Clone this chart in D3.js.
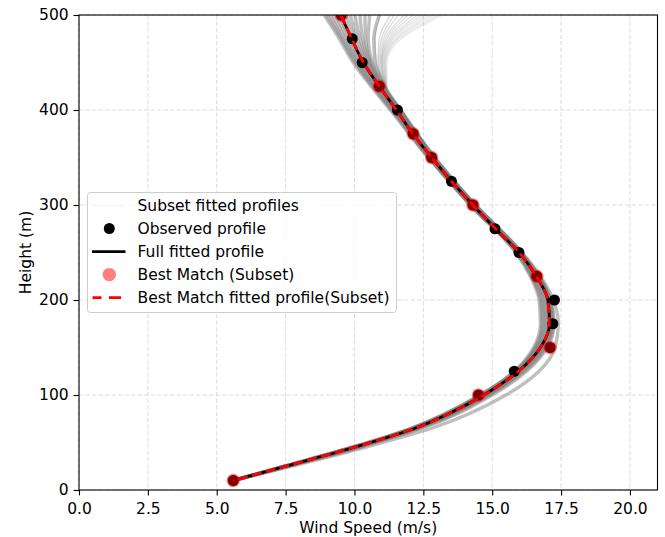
<!DOCTYPE html>
<html><head><meta charset="utf-8">
<script src="https://cdn.jsdelivr.net/npm/d3@7"></script>
<style>body{margin:0;background:#fff}svg text{font-family:"DejaVu Sans",sans-serif}</style>
</head><body><svg id="c" width="665" height="537"></svg>
<script>
// ---- data ----
const xTicks = [0, 2.5, 5, 7.5, 10, 12.5, 15, 17.5, 20];
const yTicks = [0, 100, 200, 300, 400, 500];
const obsH = [10, 100, 125, 150, 175, 200, 225, 250, 275, 300, 325, 350, 375, 400, 425, 450, 475, 500];
const obsU = [5.6, 14.5, 15.8, 17.1, 17.2, 17.26, 16.62, 15.97, 15.1, 14.3, 13.52, 12.8, 12.13, 11.56, 10.9, 10.28, 9.92, 9.52];
const subH = [10, 100, 150, 225, 300, 350, 375, 425, 500];
const subU = [5.6, 14.5, 17.1, 16.62, 14.3, 12.8, 12.13, 10.9, 9.52];
const fitH = [10, 25, 45, 65, 80, 100, 125, 150, 175, 200, 225, 250, 275, 300, 325, 350, 375, 400, 425, 450, 475, 500];
const fullFitU = [5.6, 7.5, 10.0, 12.2, 13.4, 14.7, 15.95, 16.75, 17.08, 17.02, 16.6, 15.98, 15.12, 14.3, 13.52, 12.8, 12.12, 11.52, 10.9, 10.32, 9.9, 9.5];
const bestFitU = [5.6, 7.5, 10.0, 12.2, 13.4, 14.7, 15.95, 16.75, 17.07, 17.01, 16.6, 15.98, 15.12, 14.3, 13.52, 12.8, 12.12, 11.52, 10.9, 10.33, 9.9, 9.5];
const grayH = [10, 25, 45, 65, 100, 125, 150, 175, 200, 225, 250, 300, 350, 400, 425, 450, 475, 500];
const grayCore = [
  [5.6, 7.45, 9.9, 12.05, 14.55, 15.8, 16.5, 16.75, 16.7, 16.38, 15.85, 14.2, 12.68, 11.3, 10.6, 9.95, 9.45, 8.9],
  [5.6, 7.45, 9.92, 12.08, 14.58, 15.82, 16.55, 16.8, 16.75, 16.42, 15.88, 14.21, 12.69, 11.34, 10.65, 10.02, 9.52, 9.0],
  [5.6, 7.45, 9.95, 12.1, 14.6, 15.85, 16.58, 16.85, 16.8, 16.45, 15.9, 14.22, 12.7, 11.38, 10.7, 10.08, 9.58, 9.1],
  [5.6, 7.48, 9.98, 12.12, 14.62, 15.88, 16.62, 16.9, 16.85, 16.48, 15.91, 14.24, 12.72, 11.42, 10.75, 10.14, 9.66, 9.22],
  [5.6, 7.5, 10.0, 12.15, 14.65, 15.9, 16.65, 16.95, 16.9, 16.52, 15.93, 14.26, 12.75, 11.45, 10.8, 10.2, 9.75, 9.35],
  [5.6, 7.5, 10.0, 12.18, 14.68, 15.92, 16.7, 17.0, 16.95, 16.57, 15.96, 14.28, 12.78, 11.5, 10.85, 10.28, 9.85, 9.45],
  [5.6, 7.5, 10.0, 12.2, 14.7, 15.95, 16.75, 17.05, 17.0, 16.6, 15.98, 14.3, 12.8, 11.52, 10.9, 10.32, 9.9, 9.55],
  [5.6, 7.52, 10.02, 12.22, 14.74, 15.98, 16.78, 17.08, 17.02, 16.62, 16.0, 14.32, 12.82, 11.55, 10.92, 10.38, 10.0, 9.7],
  [5.6, 7.55, 10.05, 12.25, 14.78, 16.02, 16.82, 17.12, 17.05, 16.64, 16.02, 14.34, 12.85, 11.58, 10.95, 10.45, 10.1, 9.85],
  [5.6, 7.55, 10.08, 12.28, 14.82, 16.06, 16.86, 17.15, 17.08, 16.66, 16.04, 14.36, 12.86, 11.6, 10.98, 10.5, 10.2, 10.02],
  [5.6, 7.55, 10.1, 12.3, 14.85, 16.1, 16.9, 17.18, 17.1, 16.68, 16.05, 14.37, 12.88, 11.62, 11.0, 10.55, 10.3, 10.2],
  [5.6, 7.58, 10.15, 12.38, 14.92, 16.18, 16.95, 17.22, 17.11, 16.69, 16.05, 14.38, 12.89, 11.64, 11.02, 10.6, 10.4, 10.38],
  [5.6, 7.6, 10.2, 12.45, 15.0, 16.25, 17.0, 17.25, 17.12, 16.7, 16.06, 14.38, 12.9, 11.65, 11.05, 10.65, 10.5, 10.55],
  [5.6, 7.7, 10.4, 12.8, 15.5, 16.7, 17.28, 17.4, 17.22, 16.75, 16.08, 14.4, 12.92, 11.68, 11.1, 10.75, 10.7, 10.9]
];
const fanH = [350, 400, 425, 450, 475, 500];
const grayFan = [
  [12.88, 11.64, 11.08, 10.8, 10.75, 10.95],
  [12.88, 11.66, 11.1, 10.85, 10.9, 11.3],
  [12.88, 11.66, 11.1, 10.88, 10.98, 11.45],
  [12.88, 11.66, 11.1, 10.92, 11.05, 11.6],
  [12.9, 11.68, 11.12, 10.96, 11.12, 11.8],
  [12.9, 11.68, 11.12, 10.98, 11.18, 11.95],
  [12.9, 11.68, 11.12, 11.0, 11.24, 12.12],
  [12.9, 11.68, 11.12, 11.02, 11.3, 12.3],
  [12.9, 11.68, 11.14, 11.05, 11.36, 12.45],
  [12.9, 11.7, 11.15, 11.08, 11.42, 12.6],
  [12.9, 11.69, 11.15, 11.1, 11.5, 12.75],
  [12.92, 11.7, 11.16, 11.12, 11.55, 12.9],
  [12.92, 11.71, 11.17, 11.15, 11.62, 13.05],
  [12.92, 11.72, 11.18, 11.18, 11.7, 13.2]
];
const legendLabels = ["Subset fitted profiles", "Observed profile", "Full fitted profile", "Best Match (Subset)", "Best Match fitted profile(Subset)"];

// ---- layout ----
const L = 79, R = 657.5, T = 15, B = 490, FS = 15.5;
const svg = d3.select("#c");
const x = d3.scaleLinear().domain([0, 21]).range([L, R]);
const y = d3.scaleLinear().domain([0, 500]).range([B, T]);

svg.append("defs").append("clipPath").attr("id", "clip")
  .append("rect").attr("x", L).attr("y", T).attr("width", R - L).attr("height", B - T);

// grid
const grid = svg.append("g");
xTicks.forEach(t => grid.append("line").attr("x1", x(t)).attr("x2", x(t)).attr("y1", T).attr("y2", B)
  .attr("stroke", "#dcdcdc").attr("stroke-width", 1).attr("stroke-dasharray", "4.5,2"));
yTicks.forEach(t => grid.append("line").attr("y1", y(t)).attr("y2", y(t)).attr("x1", L).attr("x2", R)
  .attr("stroke", "#dcdcdc").attr("stroke-width", 1).attr("stroke-dasharray", "4.5,2"));

const plot = svg.append("g").attr("clip-path", "url(#clip)");
const line = d3.line().x(d => x(d[0])).y(d => y(d[1])).curve(d3.curveMonotoneY);
const pts = (U, H) => U.map((u, i) => [u, H[i]]).reverse();

grayFan.forEach((U, i) => plot.append("path").attr("d", line(pts(U, fanH)))
  .attr("fill", "none").attr("stroke", "#808080").attr("stroke-opacity", 0.3 - i * 0.012).attr("stroke-width", 1.4));
grayCore.forEach(U => plot.append("path").attr("d", line(pts(U, grayH)))
  .attr("fill", "none").attr("stroke", "#808080").attr("stroke-opacity", 0.5).attr("stroke-width", 3.4));

// observed
plot.selectAll(".obs").data(obsU).enter().append("circle")
  .attr("cx", d => x(d)).attr("cy", (d, i) => y(obsH[i])).attr("r", 5.5).attr("fill", "#000");
// full fit
plot.append("path").attr("d", line(pts(fullFitU, fitH)))
  .attr("fill", "none").attr("stroke", "#000").attr("stroke-width", 2.8);
// best match points
plot.selectAll(".sub").data(subU).enter().append("circle")
  .attr("cx", d => x(d)).attr("cy", (d, i) => y(subH[i])).attr("r", 6.7).attr("fill", "red").attr("fill-opacity", 0.5);
// best match fit
plot.append("path").attr("d", line(pts(bestFitU, fitH)))
  .attr("fill", "none").attr("stroke", "red").attr("stroke-width", 2.8).attr("stroke-dasharray", "10,4.3");

// axes frame
svg.append("rect").attr("x", L).attr("y", T).attr("width", R - L).attr("height", B - T)
  .attr("fill", "none").attr("stroke", "#000").attr("stroke-width", 1.1);

const xa = svg.append("g").attr("transform", `translate(0,${B})`)
  .call(d3.axisBottom(x).tickValues(xTicks).tickFormat(d3.format(".1f")).tickSize(5.4).tickPadding(8));
const ya = svg.append("g").attr("transform", `translate(${L},0)`)
  .call(d3.axisLeft(y).tickValues(yTicks).tickFormat(d3.format("d")).tickSize(5.4).tickPadding(5));
[xa, ya].forEach(a => {
  a.select(".domain").remove();
  a.selectAll("text").attr("font-size", FS).attr("fill", "#000");
  a.selectAll("line").attr("stroke", "#000").attr("stroke-width", 1.1);
});

svg.append("text").attr("x", (L + R) / 2).attr("y", 532.5).attr("text-anchor", "middle")
  .attr("font-size", FS).text("Wind Speed (m/s)");
svg.append("text").attr("transform", `translate(31,${(T + B) / 2}) rotate(-90)`).attr("text-anchor", "middle")
  .attr("font-size", FS).text("Height (m)");

// legend
const lg = svg.append("g");
lg.append("rect").attr("x", 87.5).attr("y", 192.5).attr("width", 309).attr("height", 120).attr("rx", 3)
  .attr("fill", "#fff").attr("fill-opacity", 0.8).attr("stroke", "#cccccc");
const rowY = [205.7, 228.5, 251.6, 274.6, 297.6];
lg.append("line").attr("x1", 93).attr("x2", 125).attr("y1", rowY[0]).attr("y2", rowY[0])
  .attr("stroke", "#808080").attr("stroke-opacity", 0.08).attr("stroke-width", 1);
lg.append("circle").attr("cx", 109.3).attr("cy", rowY[1]).attr("r", 5.5).attr("fill", "#000");
lg.append("line").attr("x1", 92).attr("x2", 125.5).attr("y1", rowY[2]).attr("y2", rowY[2])
  .attr("stroke", "#000").attr("stroke-width", 2.8);
lg.append("circle").attr("cx", 109.3).attr("cy", rowY[3]).attr("r", 6.7).attr("fill", "red").attr("fill-opacity", 0.5);
lg.append("line").attr("x1", 92.5).attr("x2", 125.5).attr("y1", rowY[4]).attr("y2", rowY[4])
  .attr("stroke", "red").attr("stroke-width", 2.8).attr("stroke-dasharray", "9,7.5,12,50");
legendLabels.forEach((t, i) => lg.append("text").attr("x", 137.5).attr("y", rowY[i] + 5.6)
  .attr("font-size", FS).text(t));
</script></body></html>
